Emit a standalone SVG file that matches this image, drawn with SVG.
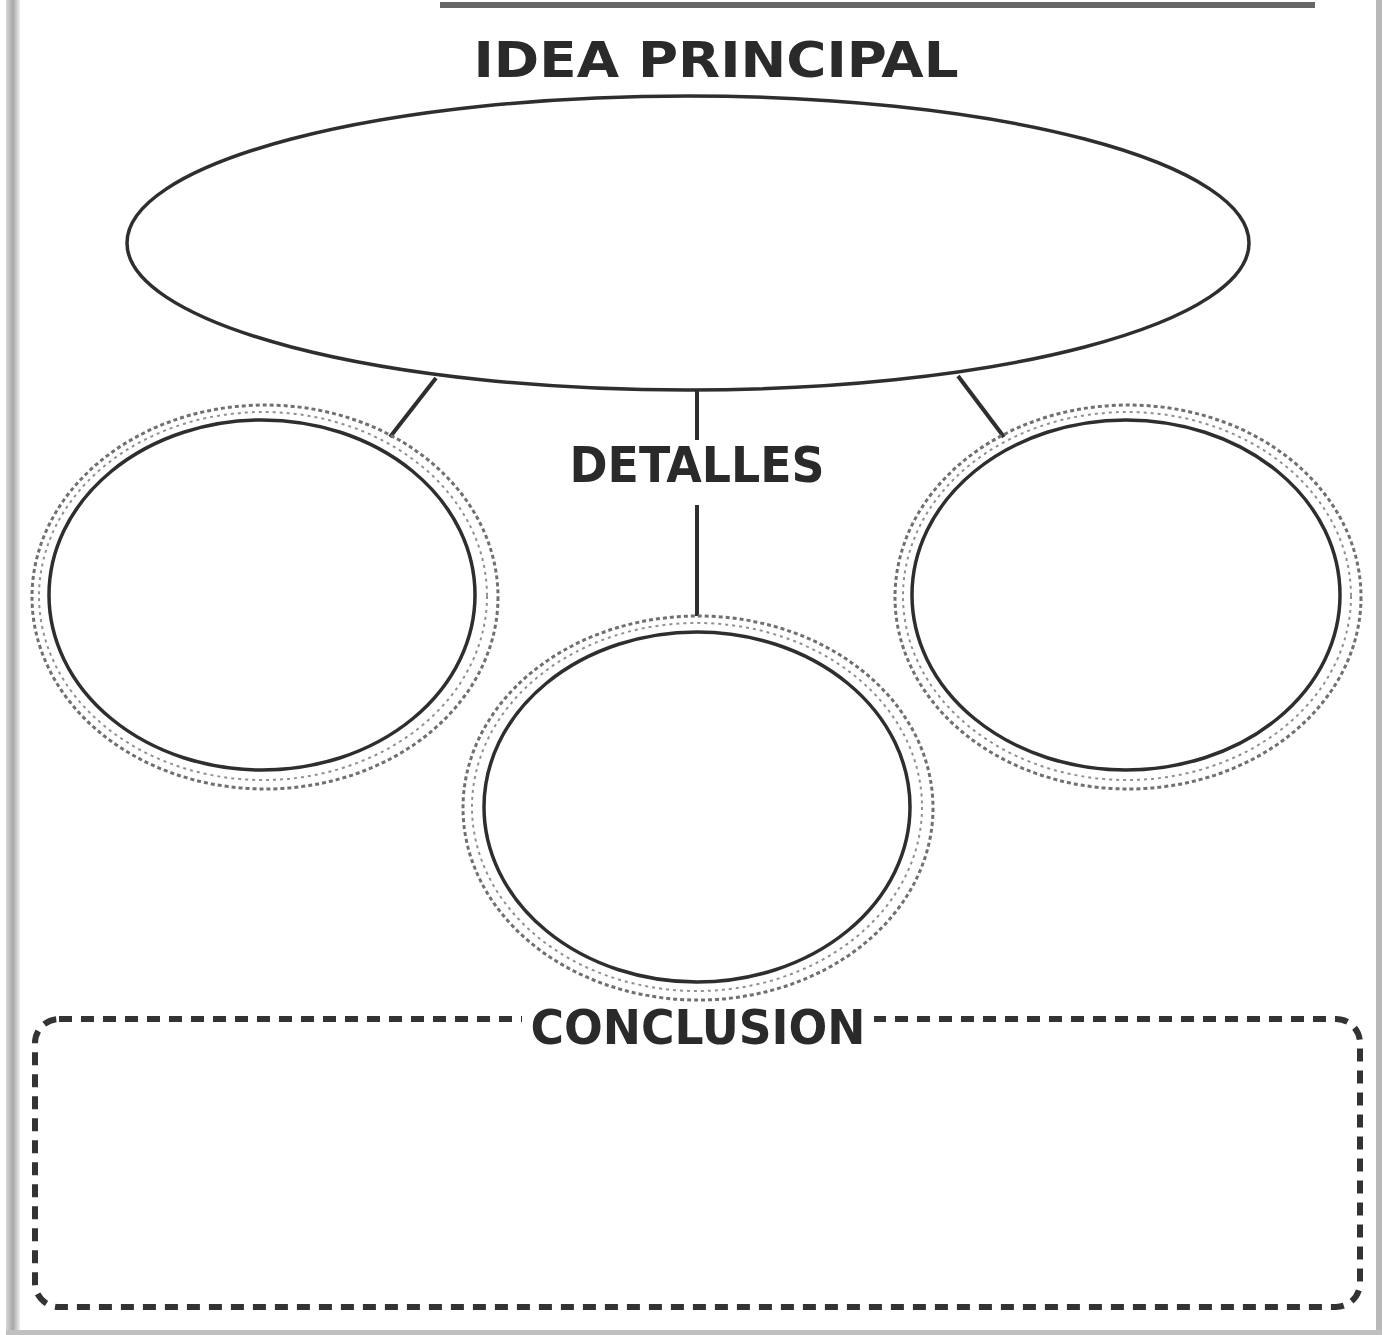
<svg xmlns="http://www.w3.org/2000/svg" width="1389" height="1335" viewBox="0 0 1389 1335">
<defs>
<linearGradient id="edge" x1="0" x2="1" y1="0" y2="0">
<stop offset="0" stop-color="#d8d8d8"/><stop offset="0.5" stop-color="#a8a8a8"/><stop offset="1" stop-color="#f0f0f0"/>
</linearGradient>
</defs>
<style>
.title{font-family:"DejaVu Sans Condensed","DejaVu Sans",sans-serif;font-weight:bold;fill:#2a2a2a;text-anchor:middle}
.main{fill:#fff;stroke:#2e2e2e;stroke-width:3.5}
.inner{fill:#fff;stroke:#2e2e2e;stroke-width:3.5}
.ring{fill:none;stroke:#707070;stroke-width:3;stroke-dasharray:4 3}
.ring2{fill:none;stroke:#909090;stroke-width:2;stroke-dasharray:3 4}
.conn{stroke:#2e2e2e;stroke-width:4;fill:none}
.box{fill:none;stroke:#333;stroke-width:6;stroke-dasharray:13 9}
</style>
<rect width="1389" height="1335" fill="#fff"/>
<rect x="6" y="0" width="14" height="1335" fill="url(#edge)"/>
<rect x="1376" y="0" width="6" height="1335" fill="#b8b8b8"/>
<rect x="6" y="1330" width="1376" height="5" fill="#c0c0c0"/>
<line x1="440" y1="5" x2="1315" y2="5" stroke="#666" stroke-width="6"/>

<g id="connectors">
<line class="conn" x1="436" y1="378" x2="390" y2="437"/>
<line class="conn" x1="958" y1="376" x2="1004" y2="437"/>
<line class="conn" x1="697" y1="390" x2="697" y2="440"/>
<line class="conn" x1="697" y1="505" x2="697" y2="616"/>
</g>

<g id="idea-principal">
<text class="title" x="716" y="77" font-size="50" textLength="485" lengthAdjust="spacingAndGlyphs">IDEA PRINCIPAL</text>
<ellipse class="main" cx="688" cy="243" rx="561" ry="147"/>
</g>

<g id="detalles-label">
<text class="title" x="697" y="482" font-size="50" textLength="255" lengthAdjust="spacingAndGlyphs">DETALLES</text>
</g>

<g id="detalle-1">
<ellipse class="ring" cx="265" cy="597" rx="233" ry="192"/>
<ellipse class="ring2" cx="263" cy="596" rx="224" ry="184"/>
<ellipse class="inner" cx="262" cy="595" rx="213" ry="175"/>
</g>

<g id="detalle-2">
<ellipse class="ring" cx="1128" cy="597" rx="233" ry="192"/>
<ellipse class="ring2" cx="1127" cy="596" rx="224" ry="184"/>
<ellipse class="inner" cx="1126" cy="595" rx="214" ry="175"/>
</g>

<g id="detalle-3">
<ellipse class="ring" cx="698" cy="808" rx="235" ry="192"/>
<ellipse class="ring2" cx="697" cy="807" rx="225" ry="184"/>
<ellipse class="inner" cx="697" cy="807" rx="213" ry="175"/>
</g>

<g id="conclusion">
<rect class="box" x="35" y="1019" width="1325" height="288" rx="24"/>
<rect x="522" y="1004" width="352" height="40" fill="#fff"/>
<text class="title" x="698" y="1044" font-size="48" textLength="335" lengthAdjust="spacingAndGlyphs">CONCLUSION</text>
</g>
</svg>
